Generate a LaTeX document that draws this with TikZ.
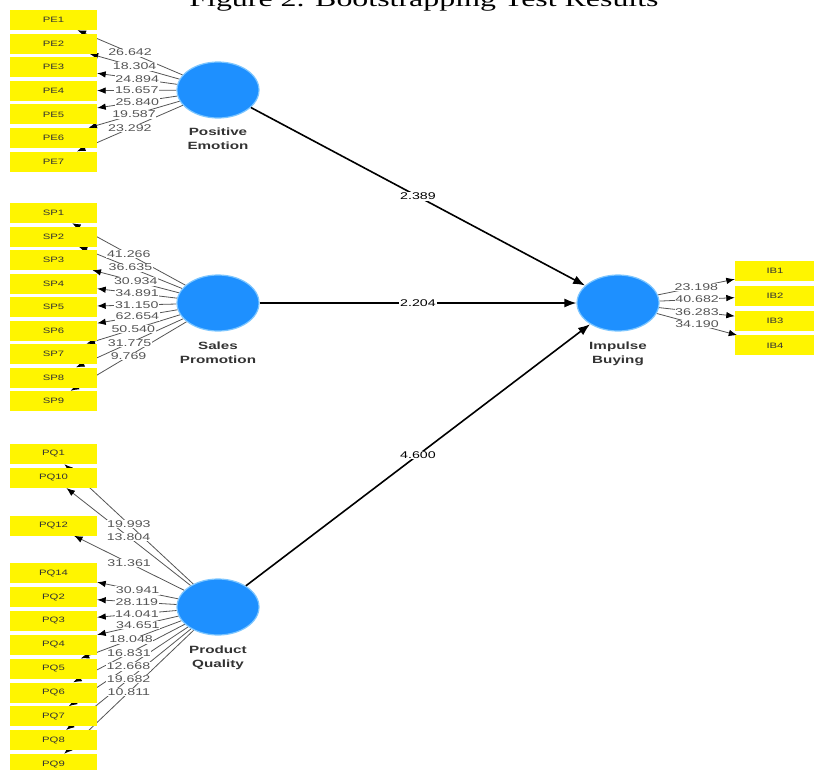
\documentclass[tikz,border=0pt]{standalone}
\usepackage{fontspec}
\usepackage{xcolor}
\usepackage{tikz}
\usetikzlibrary{arrows.meta,positioning,shapes.geometric,calc,backgrounds}
\newfontfamily\plsfont[FakeStretch=1.45]{Liberation Sans}
\newfontfamily\capfont[FakeStretch=1.45]{Liberation Serif}
\definecolor{plsblue}{RGB}{30,144,255}
\definecolor{plsrim}{RGB}{125,198,255}
\definecolor{plsyellow}{RGB}{255,245,0}
\definecolor{bk80}{HTML}{333333}
\definecolor{bk60}{HTML}{555555}
\tikzset{
  latent/.style={
    ellipse, fill=plsblue, draw=plsrim, line width=1.2pt,
    minimum width=82pt, minimum height=56pt, inner sep=0pt
  },
  indic/.style={
    rectangle, fill=plsyellow, minimum width=#1, minimum height=20pt,
    inner sep=0pt, font=\plsfont\fontsize{7.8}{8}\selectfont, text=bk80
  },
  indic/.default=87pt,
  lvname/.style={font=\plsfont\bfseries\fontsize{10.5}{14}\selectfont,
    text=bk80, align=center, inner sep=0pt},
  loadarrow/.style={
    -{Latex[length=8.5pt,width=6.5pt,color=black]}, color=bk60, line width=0.8pt
  },
  patharrow/.style={
    -{Latex[length=12pt,width=9pt]}, line width=1.6pt, color=black
  },
  loadval/.style={fill=white, inner sep=0.6pt,
    font=\plsfont\fontsize{9.8}{10}\selectfont, text=bk60},
  pathval/.style={fill=white, inner sep=1pt,
    font=\plsfont\fontsize{9.8}{10}\selectfont, text=black},
}

\begin{document}
\begin{tikzpicture}[x=1pt, y=-1pt]
  \useasboundingbox (0,0) rectangle (814,769);
  \node[font=\capfont\fontsize{22}{22}\selectfont, anchor=base] (title) at (424,6)
    {Figure 2. Bootstrapping Test Results};

  \node[latent] (pe) at (218,90) {};
  \node[latent] (sp) at (218,303) {};
  \node[latent] (pq) at (218,607) {};
  \node[latent] (ib) at (618,303) {};
  \node[lvname, below=9pt of pe] (pename) {Positive\\Emotion};
  \node[lvname, below=10pt of sp] (spname) {Sales\\Promotion};
  \node[lvname, below=10pt of pq] (pqname) {Product\\Quality};
  \node[lvname, below=10pt of ib] (ibname) {Impulse\\Buying};

  \foreach \i/\v [count=\k] in {1/26.642,2/18.304,3/24.894,4/15.657,5/25.840,6/19.587,7/23.292} {
    \node[indic] (pe\i) at (53.5,{20+23.6*(\k-1)}) {PE\i};
    \begin{pgfonlayer}{background}
      \draw[loadarrow] (pe) -- (pe\i);
    \end{pgfonlayer}
    \path (pe) -- (pe\i) node[midway, loadval] {\v};
  }

  \foreach \i/\v [count=\k] in {1/41.266,2/36.635,3/30.934,4/34.891,5/31.150,6/62.654,7/50.540,8/31.775,9/9.769} {
    \node[indic] (sp\i) at (53.5,{213+23.5*(\k-1)}) {SP\i};
    \begin{pgfonlayer}{background}
      \draw[loadarrow] (sp) -- (sp\i);
    \end{pgfonlayer}
    \path (sp) -- (sp\i) node[midway, loadval] {\v};
  }

  \foreach \i/\s/\v in {1/0/19.993,10/1/13.804,12/3/31.361,14/5/30.941,2/6/28.119,3/7/14.041,
                        4/8/34.651,5/9/18.048,6/10/16.831,7/11/12.668,8/12/19.682,9/13/10.811} {
    \node[indic] (pq\i) at (53.5,{454+23.85*\s}) {PQ\i};
    \begin{pgfonlayer}{background}
      \draw[loadarrow] (pq) -- (pq\i);
    \end{pgfonlayer}
    \path (pq) -- (pq\i) node[midway, loadval] {\v};
  }

  \foreach \i/\v [count=\k] in {1/23.198,2/40.682,3/36.283,4/34.190} {
    \node[indic=80pt] (ib\i) at (775,{271+24.8*(\k-1)}) {IB\i};
    \begin{pgfonlayer}{background}
      \draw[loadarrow] (ib) -- (ib\i);
    \end{pgfonlayer}
    \path (ib) -- (ib\i) node[midway, loadval] {\v};
  }

  \draw[patharrow] (pe) -- (ib) node[midway, pathval] {2.389};
  \draw[patharrow] (sp) -- (ib) node[midway, pathval] {2.204};
  \draw[patharrow] (pq) -- (ib) node[midway, pathval] {4.600};
\end{tikzpicture}
\end{document}
